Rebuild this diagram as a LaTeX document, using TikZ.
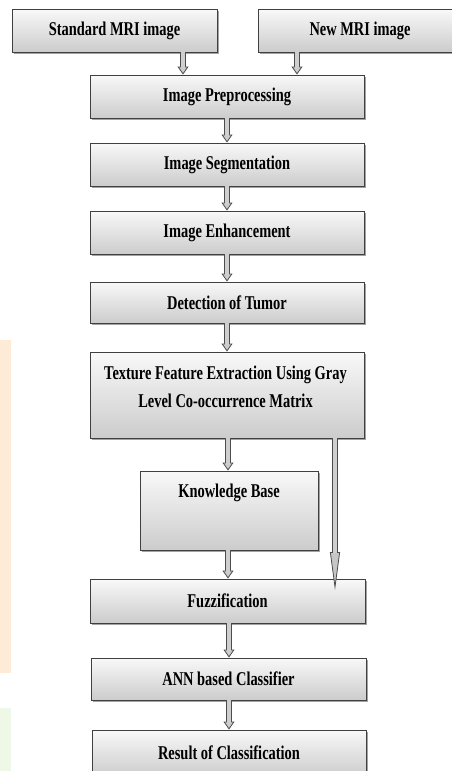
\documentclass[tikz,border=0pt]{standalone}
\usepackage{fontspec}
\setmainfont[FakeStretch=0.74]{Liberation Serif}
\usetikzlibrary{arrows.meta,shadows,calc}
\definecolor{peach}{HTML}{FDEBD8}
\definecolor{paleg}{HTML}{EFF8E6}
\begin{document}
\begin{tikzpicture}[x=1pt,y=-1pt,
  box/.style={draw=black!75, line width=0.9pt, top color=gray!5, bottom color=gray!40,
    drop shadow={shadow xshift=1.6pt, shadow yshift=-1.6pt, fill=black!60, opacity=0.6},
    inner sep=0pt, font=\fontsize{19.5}{28}\selectfont\bfseries, text=black},
  lbl/.style={font=\fontsize{19.5}{28}\selectfont\bfseries, align=center, inner sep=0pt, text=black},
  arr/.style={draw=gray!60!black, line width=5.5pt,
    -{Triangle[width=11pt,length=8pt,line width=0.8pt,fill=gray!40]},
    postaction={draw=gray!38, line width=3.4pt, -, shorten >=7pt}},
  longarr/.style={draw=gray!60!black, line width=5.5pt,
    -{Triangle[width=10pt,length=38pt,line width=0.8pt,fill=gray!45]},
    postaction={draw=gray!38, line width=3.4pt, -, shorten >=37pt}},
]
\useasboundingbox (0,0) rectangle (452,771);
\clip (0,0) rectangle (452,771);
\fill[white] (0,0) rectangle (452,771);
\fill[peach] (0,340) rectangle (11,673);
\fill[paleg] (0,708) rectangle (11,771);

\node[box, minimum width=205pt, minimum height=43pt] (std) at (114.5,30.5) {Standard MRI image};
\node[box, minimum width=204pt, minimum height=43pt] (new) at (360,30.5) {New MRI image};
\node[box, minimum width=274pt, minimum height=43pt] (pre) at (227,96.5) {Image Preprocessing};
\node[box, minimum width=274pt, minimum height=43pt] (seg) at (227,164.5) {Image Segmentation};
\node[box, minimum width=274pt, minimum height=43pt] (enh) at (227,232.5) {Image Enhancement};
\node[box, minimum width=274pt, minimum height=41pt] (det) at (227,302.5) {Detection of Tumor};
\node[box, minimum width=274pt, minimum height=86pt] (tex) at (227,395) {};
\node[lbl] (texT) at (225.5,387) {Texture Feature Extraction Using Gray\\Level Co-occurrence Matrix};
\node[box, minimum width=178pt, minimum height=79pt] (kb) at (229,510.5) {};
\node[lbl] (kbT) at (229,493) {Knowledge Base};
\node[box, minimum width=275pt, minimum height=44pt] (fuz) at (227.5,601) {Fuzzification};
\node[box, minimum width=275pt, minimum height=42pt] (ann) at (228.5,679) {ANN based Classifier};
\node[box, minimum width=274pt, minimum height=46pt] (res) at (229,753) {Result of Classification};

\coordinate (lend) at (335,590);

\draw[arr] ([xshift=68.5pt]std.south) -- ([xshift=68.5pt]std.south |- pre.north);
\draw[arr] ([xshift=-63pt]new.south) -- ([xshift=-63pt]new.south |- pre.north);
\draw[arr] (pre.south) -- (pre.south |- seg.north);
\draw[arr] (seg.south) -- (seg.south |- enh.north);
\draw[arr] (enh.south) -- (enh.south |- det.north);
\draw[arr] (det.south) -- (det.south |- tex.north);
\draw[arr] ([xshift=1pt]tex.south) -- ([xshift=1pt]tex.south |- kb.north);
\draw[arr] ([xshift=1pt]tex.south |- kb.south) -- ([xshift=1pt]tex.south |- fuz.north);
\draw[arr] ([xshift=1.5pt]fuz.south) -- ([xshift=1.5pt]fuz.south |- ann.north);
\draw[arr] ([xshift=1.5pt]fuz.south |- ann.south) -- ([xshift=1.5pt]fuz.south |- res.north);
\draw[longarr] (tex.south -| lend) -- (lend);
\end{tikzpicture}
\end{document}
